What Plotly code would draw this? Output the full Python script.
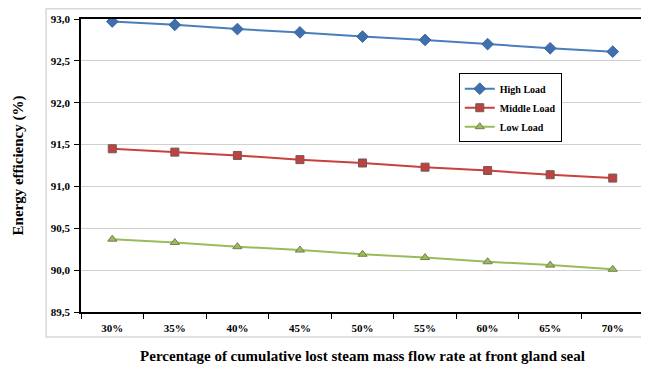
import plotly.graph_objects as go

categories = ["30%", "35%", "40%", "45%", "50%", "55%", "60%", "65%", "70%"]
high_load = [92.97, 92.93, 92.88, 92.84, 92.79, 92.75, 92.70, 92.65, 92.61]
middle_load = [91.45, 91.41, 91.37, 91.32, 91.28, 91.23, 91.19, 91.14, 91.10]
low_load = [90.37, 90.33, 90.28, 90.24, 90.19, 90.15, 90.10, 90.06, 90.01]
y_ticks = [89.5, 90.0, 90.5, 91.0, 91.5, 92.0, 92.5, 93.0]

font_family = "Liberation Serif"

fig = go.Figure()
fig.add_trace(go.Scatter(
    x=categories, y=high_load, name="High Load", mode="lines+markers",
    line=dict(color="#4a7ebb", width=2),
    marker=dict(symbol="diamond", size=9, color="#3f6fad", line=dict(color="#3a67a0", width=1)),
))
fig.add_trace(go.Scatter(
    x=categories, y=middle_load, name="Middle Load", mode="lines+markers",
    line=dict(color="#c9403d", width=2),
    marker=dict(symbol="square", size=8, color="#c0413e", line=dict(color="#6e5a5a", width=1)),
))
fig.add_trace(go.Scatter(
    x=categories, y=low_load, name="Low Load", mode="lines+markers",
    line=dict(color="#9bbb59", width=2),
    marker=dict(symbol="triangle-up", size=8, color="#9bbb59", line=dict(color="#6f7f50", width=1)),
))

fig.update_layout(
    width=641, height=364,
    margin=dict(l=73, r=3, t=11, b=60),
    paper_bgcolor="white", plot_bgcolor="white",
    separators=",.",
    font=dict(family=font_family, color="black", size=11),
    showlegend=True,
    legend=dict(
        x=0.671, y=0.815, xanchor="left", yanchor="top",
        bgcolor="white", bordercolor="black", borderwidth=1,
        font=dict(family=font_family, size=10, color="black", weight="bold"),
        tracegroupgap=0, itemwidth=30,
    ),
    xaxis=dict(
        type="category", range=[-0.5, 8.5],
        tickson="boundaries", ticks="outside", ticklen=5, tickcolor="black",
        showline=True, linecolor="black", linewidth=1.5, mirror=True,
        showgrid=False, ticklabelstandoff=5,
        tickfont=dict(family=font_family, size=11, color="black", weight="bold"),
        title=dict(text="Percentage of cumulative lost steam mass flow rate at front gland seal",
                   font=dict(family=font_family, size=15, color="black", weight="bold"), standoff=18),
    ),
    yaxis=dict(
        range=[89.5, 93.0], tickvals=y_ticks, tickformat=".1f",
        ticks="outside", ticklen=5, tickcolor="black",
        showline=True, linecolor="black", linewidth=1.5, mirror=True,
        showgrid=True, gridcolor="#d0d0d0", gridwidth=1,
        zeroline=False, ticklabelstandoff=2,
        tickfont=dict(family=font_family, size=11, color="black", weight="bold"),
        title=dict(text="Energy efficiency (%)",
                   font=dict(family=font_family, size=15, color="black", weight="bold"), standoff=24),
    ),
)

fig.add_shape(type="rect", xref="paper", yref="paper",
              x0=-35/565, x1=1.003, y0=-25/293, y1=1.035,
              line=dict(color="#d8d8d8", width=1.5), fillcolor="rgba(0,0,0,0)", layer="below")

fig.write_html("out.html")
